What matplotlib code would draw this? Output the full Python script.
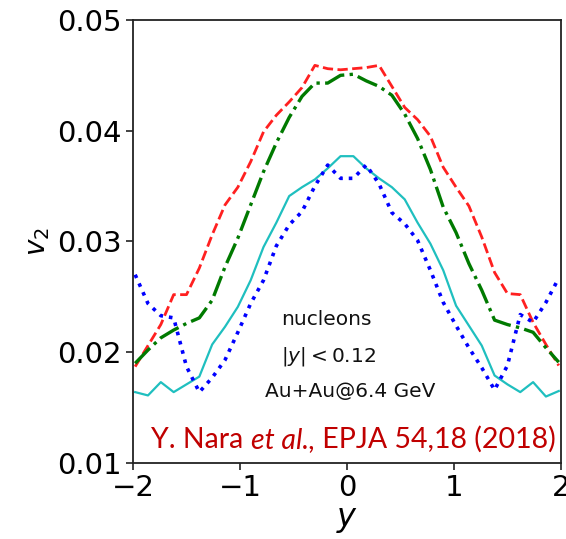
import matplotlib
matplotlib.use("Agg")
import matplotlib.pyplot as plt
from matplotlib.transforms import offset_copy

# rapidity grid (bin centres)
y_vals = [-1.98, -1.86, -1.74, -1.62, -1.50, -1.38, -1.26, -1.14, -1.02, -0.90,
          -0.78, -0.66, -0.54, -0.42, -0.30, -0.18, -0.06,
          0.06, 0.18, 0.30, 0.42, 0.54, 0.66, 0.78, 0.90, 1.02,
          1.14, 1.26, 1.38, 1.50, 1.62, 1.74, 1.86, 1.98]

v2_red = [0.0187, 0.0206, 0.0225, 0.0252, 0.0252, 0.0276, 0.0306, 0.0333, 0.0349, 0.0372,
          0.0399, 0.0414, 0.0426, 0.0439, 0.0459, 0.0456, 0.0455,
          0.0456, 0.0457, 0.0459, 0.0440, 0.0421, 0.0410, 0.0395, 0.0367, 0.0349,
          0.0332, 0.0304, 0.0272, 0.0253, 0.0252, 0.0227, 0.0207, 0.0188]

v2_green = [0.0190, 0.0202, 0.0213, 0.0220, 0.0226, 0.0231, 0.0247, 0.0277, 0.0303, 0.0333,
            0.0363, 0.0389, 0.0412, 0.0431, 0.0443, 0.0443, 0.0450,
            0.0451, 0.0445, 0.0440, 0.0432, 0.0415, 0.0393, 0.0365, 0.0331, 0.0308,
            0.0280, 0.0256, 0.0229, 0.0225, 0.0222, 0.0218, 0.0204, 0.0191]

v2_cyan = [0.0164, 0.0161, 0.0173, 0.0164, 0.0171, 0.0178, 0.0207, 0.0223, 0.0241, 0.0265,
           0.0295, 0.0317, 0.0341, 0.0349, 0.0356, 0.0366, 0.0377,
           0.0377, 0.0366, 0.0357, 0.0349, 0.0338, 0.0317, 0.0298, 0.0274, 0.0242,
           0.0224, 0.0206, 0.0179, 0.0171, 0.0164, 0.0173, 0.0160, 0.0165]

v2_blue = [0.0270, 0.0244, 0.0233, 0.0231, 0.0187, 0.0164, 0.0177, 0.0193, 0.0218, 0.0244,
           0.0265, 0.0296, 0.0315, 0.0327, 0.0350, 0.0369, 0.0357,
           0.0357, 0.0369, 0.0352, 0.0326, 0.0316, 0.0301, 0.0274, 0.0245, 0.0224,
           0.0204, 0.0186, 0.0166, 0.0188, 0.0234, 0.0227, 0.0245, 0.0267]

xticks = [-2, -1, 0, 1, 2]
yticks = [0.01, 0.02, 0.03, 0.04, 0.05]
ytick_labels = ["0.01", "0.02", "0.03", "0.04", "0.05"]

fig = plt.figure(figsize=(5.66, 5.39), dpi=100)
ax = fig.add_axes([0.235, 0.141, 0.756, 0.822])

ax.plot(y_vals, v2_red, color="#ff2020", linestyle="--", lw=2.0)
ax.plot(y_vals, v2_green, color="#007a00", linestyle="-.", lw=2.4)
ax.plot(y_vals, v2_cyan, color="#1fbfbf", linestyle="-", lw=1.6)
ax.plot(y_vals, v2_blue, color="#0000ff", linestyle=":", lw=2.6)

ax.set_xlim(-2, 2)
ax.set_ylim(0.01, 0.05)
ax.set_xticks(xticks)
ax.set_yticks(yticks)
ax.set_yticklabels(ytick_labels)
ax.tick_params(labelsize=21, length=5, width=1.2, color="#222222", pad=3)
for s in ax.spines.values():
    s.set_linewidth(1.3)
    s.set_color("#222222")

ax.set_xlabel(r"$y$", fontsize=23, labelpad=1)
ax.set_ylabel(r"$v_2$", fontsize=20, labelpad=4)

ax.text(-0.62, 0.02246, "nucleons", fontsize=14.5, ha="left", va="baseline", color="#111111")
ax.text(-0.62, 0.01912, r"$|y|<0.12$", fontsize=14.5, ha="left", va="baseline", color="#111111")
ax.text(-0.765, 0.01596, "Au+Au@6.4 GeV", fontsize=14.5, ha="left", va="baseline", color="#111111")

# citation: built from pieces so that "et al.," is italic in the same font
cite_size = 20.5
cite_col = "#c00000"
x0, ybase = -1.83, 0.01137
t1 = ax.text(x0, ybase, "Y. Nara ", fontsize=cite_size, color=cite_col,
             family="Lato", ha="left", va="baseline")
fig.canvas.draw()
r = fig.canvas.get_renderer()
w1 = t1.get_window_extent(r).width
t2 = ax.text(x0, ybase, "et al.,", fontsize=cite_size, color=cite_col, family="Lato",
             style="italic", ha="left", va="baseline",
             transform=offset_copy(ax.transData, fig=fig, x=w1 * 72 / fig.dpi, units="points"))
fig.canvas.draw()
w2 = t2.get_window_extent(r).width
ax.text(x0, ybase, " EPJA 54,18 (2018)", fontsize=cite_size, color=cite_col, family="Lato",
        ha="left", va="baseline",
        transform=offset_copy(ax.transData, fig=fig, x=(w1 + w2) * 72 / fig.dpi, units="points"))

fig.savefig("out.png", dpi=100)
